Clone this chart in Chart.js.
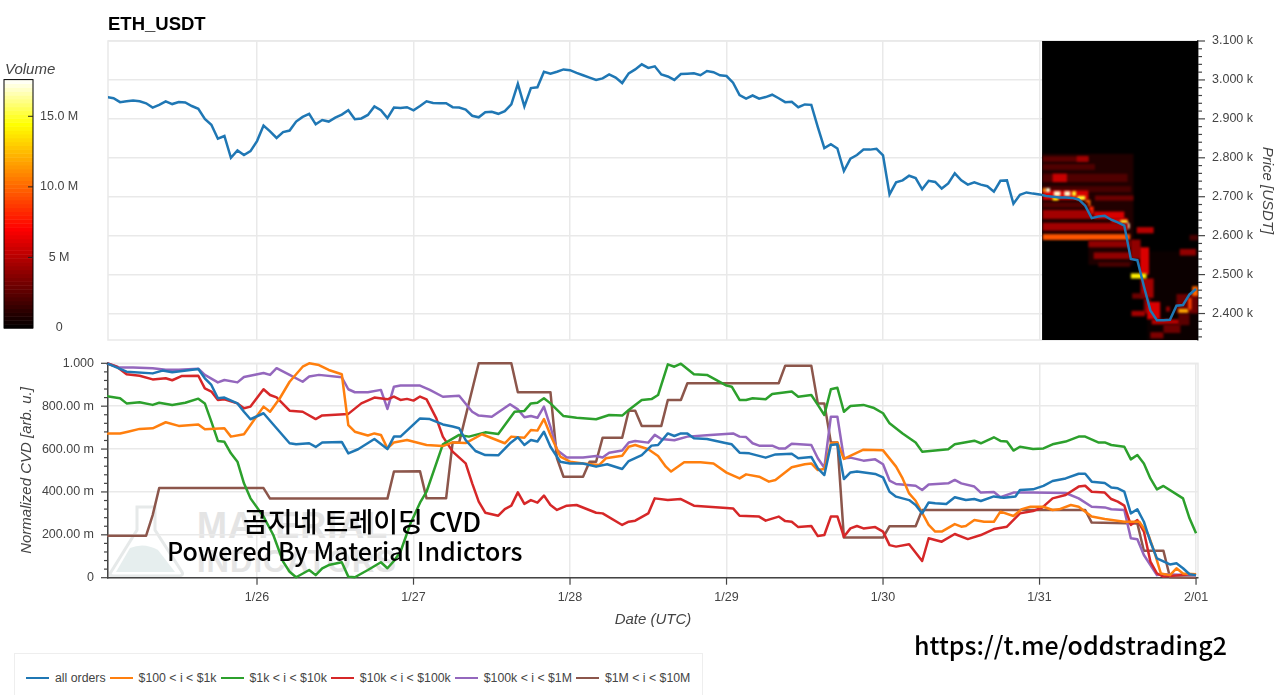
<!DOCTYPE html>
<html>
<head>
<meta charset="utf-8">
<title>ETH_USDT CVD</title>
<script src="https://cdn.jsdelivr.net/npm/chart.js@4"></script>
<style>
    html, body { margin: 0; padding: 0; background: #fff; overflow: hidden; }
    body { position: relative; width: 1280px; height: 695px; font-family: "Liberation Sans", sans-serif; }
    canvas { position: absolute; }
    .note { position: absolute; white-space: nowrap; color: #000; font-weight: 500; font-family: "Noto Sans CJK KR", sans-serif; }
    #legend { position: absolute; left: 14px; top: 653px; width: 689px; height: 50px; border: 1px solid #eee; box-sizing: border-box;
              display: flex; align-items: flex-start; padding: 17px 0 0 11px; font-size: 12.3px; color: #444; }
    #legend i { display: block; width: 23px; height: 2px; margin: 6px 6px 0 4px; }
    #legend i:first-child { margin-left: 0; }
    #volumeLabel { position: absolute; left: 5px; top: 60px; font: italic 15px "Liberation Sans", sans-serif; color: #444; }
    .mark { position: absolute; font-weight: bold; color: #e4e4e4; font-family: "Liberation Sans", sans-serif; white-space: nowrap; }
</style>
</head>
<body>
<svg width="100" height="90" style="position:absolute;left:100px;top:500px">
    <path d="M37 7 H55 V30 L82 72 Q84 76 78 76 H14 Q8 76 11 72 L37 30 Z" fill="none" stroke="#e6e9e9" stroke-width="3"/>
    <path d="M16 72 L30 48 Q44 42 58 50 L75 72 Z" fill="#e6eeee"/>
</svg>
<div class="mark" style="left:197px;top:505px;font-size:36px;letter-spacing:1px">MATERIAL</div>
<div class="mark" style="left:197px;top:544px;font-size:31px;letter-spacing:1px">INDICATORS</div>

<canvas id="priceChart" width="1280" height="345" style="left:0;top:0"></canvas>
<canvas id="cvdChart" width="1280" height="300" style="left:0;top:350px"></canvas>
<canvas id="volumeBar" width="100" height="280" style="left:0;top:60px"></canvas>

<div id="volumeLabel">Volume</div>
<div class="note" style="left:243px;top:501px;font-size:27px">곰지네 트레이딩 CVD</div>
<div class="note" style="left:167px;top:532px;font-size:25px">Powered By Material Indictors</div>
<div class="note" style="left:914px;top:626px;font-size:25px">https://t.me/oddstrading2</div>
<div id="legend"></div>

<script>
// x values are hours counted from 1/25 00:00 UTC
const dayTicks = [24, 48, 72, 96, 120, 144, 168];
const dayLabels = ['1/26', '1/27', '1/28', '1/29', '1/30', '1/31', '2/01'];

const priceTicks = [2400, 2500, 2600, 2700, 2800, 2900, 3000, 3100];
const cvdTicks = [0, 200, 400, 600, 800, 1000];
const cvdLabels = ['0', '200.00 m', '400.00 m', '600.00 m', '800.00 m', '1.000'];
const volumeTicks = [0, 5, 10, 15];
const volumeLabels = ['0', '5 M', '10.0 M', '15.0 M'];

// hourly close, first value is hour 1
const priceValues = [
    2956, 2953, 2943, 2945, 2947, 2945, 2940, 2929, 2936, 2945, 2938, 2943, 2942, 2933, 2926, 2900,
    2885, 2849, 2856, 2800, 2819, 2807, 2817, 2843, 2883, 2868, 2851, 2866, 2870, 2893, 2905, 2913,
    2886, 2897, 2893, 2903, 2911, 2922, 2899, 2901, 2910, 2932, 2922, 2902, 2929, 2928, 2930, 2922,
    2933, 2945, 2941, 2940, 2940, 2930, 2929, 2924, 2908, 2904, 2917, 2918, 2913, 2920, 2937, 2990,
    2932, 2979, 2981, 3021, 3016, 3021, 3027, 3025, 3018, 3012, 3006, 3000, 3004, 3014, 3006, 2992,
    3017, 3027, 3040, 3031, 3035, 3014, 3009, 3000, 3015, 3016, 3017, 3012, 3023, 3020, 3012, 3010,
    2993, 2961, 2952, 2960, 2952, 2956, 2962, 2953, 2943, 2944, 2930, 2937, 2936, 2879, 2825, 2835,
    2824, 2766, 2798, 2807, 2821, 2821, 2823, 2806, 2706, 2737, 2742, 2754, 2748, 2719, 2741, 2738,
    2721, 2734, 2760, 2742, 2731, 2737, 2731, 2727, 2713, 2741, 2742, 2682, 2705, 2711, 2708, 2706,
    2702, 2700, 2698, 2698, 2697, 2693, 2677, 2645, 2649, 2651, 2641, 2634, 2626, 2540, 2537, 2470,
    2408, 2383, 2383, 2384, 2420, 2422, 2449, 2463
];

// normalized CVD in milli units, [hour, value] at each kink of the line
const allOrders = [[1,1000],[4,961],[8,953],[9.5,966],[11,958],[15,973],[16,930],[17,899],[18,837],[19,840],[21,813],[22,774],[23,739],[25,767],[27,697],[29,627],[30,622],[32,627],[33,610],[34,631],[37,633],[38,580],[39.5,599],[42,647],[44,600],[45,658],[46,658],[49,743],[50.5,740],[52.5,715],[54,705],[55,697],[56,642],[57.5,591],[59,572],[61,571],[62.8,627],[64,655],[65,619],[66,642],[67,635],[68,681],[69,611],[70.5,541],[72,533],[74,533],[76,518],[77.7,529],[80,507],[81,544],[83,572],[84.5,616],[85.5,619],[87,673],[88,661],[89,673],[90,672],[91,650],[93,647],[96,627],[96.8,622],[98,583],[99.5,580],[102,560],[103.5,575],[106,578],[107,557],[109,563],[110,510],[111,479],[112,619],[113,622],[114,460],[115,491],[116,495],[118.8,484],[120,468],[121,401],[122,378],[124,362],[125,339],[126,300],[127,351],[128,347],[129.7,344],[131,375],[132.7,362],[134,367],[135,358],[137,379],[138.5,373],[140.3,379],[141,409],[143,412],[144.6,428],[146,451],[148,463],[150,485],[151,485],[152,448],[154,442],[155,421],[156,417],[157,401],[158,300],[159,319],[160,261],[161,168],[162,90],[164,62],[165,67],[166,44],[167,16],[168,12]];
const smallOrders = [[1,672],[3,673],[4.2,681],[6,694],[8,697],[10,725],[12,708],[15,715],[16,692],[19,697],[20,658],[22,669],[25,798],[26,774],[27.5,837],[29,914],[31,984],[32,1000],[33.5,992],[35,969],[37,949],[38,712],[39,681],[41,663],[42,673],[43,666],[44,603],[45,631],[47,642],[50,619],[52.5,614],[54,631],[56,628],[58.5,669],[62,627],[63,658],[65,653],[66,689],[67,686],[68,740],[69,666],[70.5,565],[72,541],[74,533],[76.5,526],[77.5,557],[80,569],[81,611],[82,619],[84,599],[85.5,568],[86.7,518],[87.5,495],[89.5,538],[92,538],[94,533],[96,490],[98,463],[99,482],[101,471],[102.5,448],[103.5,456],[106,515],[108,529],[109,533],[110,502],[111,507],[112,627],[113,631],[114,554],[117,597],[120,594],[122,518],[123,463],[124,393],[125,359],[127,246],[128,215],[129,215],[131,250],[132,238],[132.7,241],[134,269],[135.5,261],[137,261],[138,308],[140,288],[141.3,320],[142.6,331],[144.6,331],[146,316],[147,319],[148.8,339],[150,331],[152,285],[154,274],[157,261],[159.3,261],[160.7,199],[161.6,121],[162.6,20],[164,12],[165,44],[166,20],[168,16]];
const midOrders = [[1,846],[3,837],[4,813],[6,818],[8,806],[9,816],[11,806],[13,816],[15,835],[16,813],[17,728],[18,638],[19,634],[20,580],[21,541],[22,440],[23,370],[25,285],[26.5,199],[28,75],[29,28],[30,2],[32,36],[33,12],[34,44],[35,59],[37,72],[38,5],[39,2],[41,36],[43,72],[44,44],[45,78],[46,121],[47.5,250],[49,350],[50,401],[52.5,622],[55,666],[56.5,658],[59,678],[61,670],[63.5,774],[65,778],[66,813],[67,816],[68,837],[69,813],[71,754],[73,746],[76,739],[78,759],[80,756],[81,782],[83,829],[84.5,833],[85.5,852],[87,995],[88,984],[89,998],[91,949],[93,946],[96,896],[96.8,891],[98,829],[99,829],[100,837],[102,832],[103,857],[106,868],[107,844],[109,852],[110,806],[111,759],[112,879],[113,886],[114,774],[115,801],[117,806],[118.5,793],[120,767],[121,720],[123,673],[125,631],[126,588],[130,599],[131,622],[134,639],[135,627],[137,655],[138,638],[139,635],[140,593],[141,611],[143,600],[144.6,603],[146,622],[148,635],[150,658],[151,658],[153,631],[154,631],[155,619],[157,611],[158,552],[159,572],[160,533],[161,463],[162,412],[163,428],[166,370],[167,277],[168,207]];
const largeOrders = [[1,1000],[2.5,984],[4,949],[6,942],[8,925],[10,930],[11,921],[12.5,941],[15,942],[16,883],[17,868],[18,829],[19,832],[21,813],[22,790],[23,798],[25,879],[26,852],[27,841],[29,779],[31,774],[33,740],[34,757],[38,764],[40,813],[42,840],[44,832],[45,845],[46,829],[47,834],[48,826],[49,845],[50,832],[51.5,743],[52.5,658],[54,588],[56,533],[57,440],[58,355],[59,303],[61,289],[62,320],[63,336],[64,398],[65,344],[66,362],[67,350],[68,383],[69,339],[70,316],[71.5,336],[73,339],[76,303],[77,300],[80,246],[81,261],[82,266],[84,300],[85,370],[87,362],[89,367],[91,336],[96,325],[97,323],[98,289],[101,285],[102,266],[104,285],[105,264],[106,261],[107,236],[109,241],[110,194],[111,199],[112,285],[113,286],[114,191],[115,230],[116,241],[117,230],[118.8,236],[120,215],[121,152],[122,145],[124,156],[126,78],[127,184],[129,168],[131,204],[133,180],[135,199],[137,227],[139,238],[141,300],[143,311],[144.4,327],[146,370],[148,386],[150,425],[151,429],[152,401],[154,397],[155,367],[156,355],[157,336],[158,246],[159,269],[160,215],[161,75],[162,20],[163,5],[167,16],[168,16]];
const whaleOrders = [[1,1000],[3,980],[5,980],[8,977],[10,970],[12,970],[15,975],[16,946],[18,911],[19,922],[21,911],[22,936],[25,955],[26,946],[27,977],[29,946],[31,914],[32,938],[33.5,946],[37,935],[38,879],[39,865],[41,865],[43,876],[44,787],[45,891],[46,896],[49,896],[50.5,876],[52.5,844],[55,849],[57,774],[58,756],[60,751],[62.8,809],[64,785],[65,748],[66,754],[67,746],[68,798],[69,704],[70,596],[71.5,561],[74,561],[76,568],[77,561],[78,583],[80,593],[81,631],[82,638],[84,630],[85,666],[86,647],[88,641],[90,658],[93.5,666],[97,673],[98,658],[99,656],[100,627],[101,616],[103,616],[104,603],[105,603],[106,625],[109,619],[110,557],[111,513],[112,751],[113,751],[114,557],[115,560],[117,546],[118.8,552],[120,529],[121,453],[122,437],[125,429],[126,409],[127,435],[130,440],[131,456],[132,440],[134,425],[135,397],[137,400],[138,375],[140,397],[143,397],[148,395],[150,370],[152,331],[154,328],[155,319],[157,316],[158,184],[159,179],[160,106],[162,12],[163,16],[168,12]];
const megaOrders = [[1,196],[7,196],[8,292],[9,418],[25,418],[26,369],[44,369],[45,495],[49,496],[50,370],[53,370],[54,631],[55,631],[58,1000],[63,1000],[64,865],[69,865],[70,557],[71,471],[74,471],[75,541],[76,541],[77,653],[80,653],[81,779],[82,779],[83,708],[86,708],[87,829],[89,829],[90,907],[104,907],[105,989],[109,989],[110,813],[111,813],[112,631],[113,631],[114,187],[120,187],[121,240],[125,240],[126,316],[151,316],[152,257],[159,253],[160,126],[163,126],[164,2],[168,0]];

const seriesNames = ['all orders', '$100 < i < $1k', '$1k < i < $10k', '$10k < i < $100k', '$100k < i < $1M', '$1M < i < $10M'];
const seriesColors = ['#1f77b4', '#ff7f0e', '#2ca02c', '#d62728', '#9467bd', '#8c564b'];
const seriesData = [allOrders, smallOrders, midOrders, largeOrders, whaleOrders, megaOrders];

// volume profile patches: [hour from, hour to, price high, price low, volume in millions]
const heatBands = [
    [144.4,168.3,3102,2330,0],
    [144.4,158.4,2810,2590,0.9],[160.5,168.3,2560,2330,0.3],[151.5,158.4,2590,2525,0.8],
    [144.5,151.5,2804,2790,2.5],[149.7,151.5,2804,2790,4.5],
    [144.5,152.5,2784,2769,2.2],
    [144.5,157.5,2759,2738,2.2],[146,148.2,2759,2738,5.5],
    [144.5,158,2727,2712,2],
    [144.5,151.5,2716,2692,6],[152.5,158.4,2703,2690,3],
    [144.5,145,2722,2712,11],[145,145.6,2722,2712,17],[146,146.9,2700,2690,14],
    [146.2,147.2,2714,2702,17],[147.8,148.7,2714,2702,17],[149,149.6,2714,2702,15],[149.8,151,2702,2692,15],[151,151.8,2692,2675,10],[151.6,152.3,2675,2655,8],
    [144.5,151.5,2686,2672,2.2],
    [144.5,152,2666,2643,4.5],[152.3,157,2662,2643,6],[155,157.5,2645,2632,6],[156.4,157.5,2640,2630,15],[157,157.8,2632,2618,17],
    [144.5,157.6,2633,2613,4.5],[158.9,161.5,2622,2606,5],
    [144.5,157.9,2604,2589,9.5],
    [151.5,158,2587,2570,4],[158,159.5,2590,2540,4],[159.4,160.8,2570,2500,6],
    [152.3,157.9,2557,2540,4],[153,157.9,2532,2520,2],
    [159.5,161.5,2490,2440,4.5],[160,161,2440,2400,3.5],[158,160.4,2503,2490,14],
    [158.2,160,2452,2438,3],[158.1,160.2,2407,2393,4.5],
    [160.5,162.5,2430,2385,6],[161.2,165.6,2385,2372,5],[161,163,2352,2336,3.5],[163,165.6,2372,2350,3],[163.4,164,2418,2405,4],
    [165,168.3,2450,2400,3],[165.3,167,2400,2370,2.5],
    [165.5,168,2566,2549,4],[167,168.3,2602,2588,2],[165.3,166.8,2412,2402,12],[166.8,167.3,2440,2410,9],[167.4,168.3,2470,2445,10]
];

const volumeMax = 17.6;

// black, red, yellow, white
function hot(t) {
    const c = v => Math.round(Math.max(0, Math.min(1, v)) * 255);
    return 'rgb(' + c(t / 0.4) + ',' + c((t - 0.4) / 0.42) + ',' + c((t - 0.82) / 0.18) + ')';
}

const gridColor = '#e9e9e9';
const axisColor = '#444';
const labelFont = { family: 'Liberation Sans', size: 12.5 };
const titleFont = { family: 'Liberation Sans', size: 15, style: 'italic' };

const setTicks = values => axis => { axis.ticks = values.map(v => ({ value: v })); };
const labelFor = (values, labels) => v => labels[values.indexOf(v)];

// keep plot edges where we put them, tick labels may hang over
function fixSize(prop, size) {
    return axis => {
        axis[prop] = size;
        axis.paddingTop = axis.paddingBottom = axis.paddingLeft = axis.paddingRight = 0;
    };
}

// light frame around a plot
const outline = {
    id: 'outline',
    beforeDraw(chart) {
        const a = chart.chartArea;
        chart.ctx.save();
        chart.ctx.strokeStyle = gridColor;
        chart.ctx.lineWidth = 1.5;
        chart.ctx.strokeRect(a.left, a.top, a.width, a.height);
        chart.ctx.restore();
    }
};

// bokeh style major and minor tick marks, drawn outside the axis
function tickMarks(axisId, majors, minorStep) {
    return {
        id: 'tickMarks' + axisId,
        afterDraw(chart) {
            const scale = chart.scales[axisId];
            const ctx = chart.ctx;
            const mark = (v, len) => {
                const p = scale.getPixelForValue(v);
                ctx.beginPath();
                if (scale.position === 'left') { ctx.moveTo(scale.right, p); ctx.lineTo(scale.right - len, p); }
                else if (scale.position === 'right') { ctx.moveTo(scale.left, p); ctx.lineTo(scale.left + len, p); }
                else { ctx.moveTo(p, scale.top); ctx.lineTo(p, scale.top + len); }
                ctx.stroke();
            };
            ctx.save();
            ctx.strokeStyle = axisColor;
            ctx.lineWidth = 1.2;
            majors.forEach(v => mark(v, 7));
            if (minorStep) {
                for (let v = scale.min - scale.min % minorStep + minorStep; v < scale.max; v += minorStep) {
                    if (!majors.includes(v)) mark(v, 4);
                }
            }
            ctx.restore();
        }
    };
}

const heatmap = {
    id: 'heatmap',
    beforeDatasetsDraw(chart) {
        const { ctx, chartArea: a, scales: { x, y } } = chart;
        ctx.save();
        ctx.beginPath();
        ctx.rect(x.getPixelForValue(heatBands[0][0]), a.top, a.right - x.getPixelForValue(heatBands[0][0]), a.height);
        ctx.clip();
        ctx.fillStyle = hot(0);
        ctx.fillRect(a.left, a.top, a.width, a.height);
        ctx.filter = 'blur(0.8px)';
        heatBands.forEach(([h0, h1, high, low, vol]) => {
            ctx.fillStyle = hot(vol / volumeMax);
            const left = x.getPixelForValue(h0), top = y.getPixelForValue(high);
            ctx.fillRect(left, top, x.getPixelForValue(h1) - left, y.getPixelForValue(low) - top);
        });
        ctx.restore();
    }
};

new Chart(document.getElementById('priceChart'), {
    type: 'line',
    data: {
        datasets: [{
            data: priceValues.map((v, i) => ({ x: i + 1, y: v })),
            borderColor: seriesColors[0],
            borderWidth: 2.5,
            pointRadius: 0,
            tension: 0
        }]
    },
    options: {
        responsive: false,
        animation: false,
        layout: { autoPadding: false, padding: { left: 108, bottom: 5 } },
        plugins: {
            legend: { display: false },
            tooltip: { enabled: false },
            title: {
                display: true,
                text: 'ETH_USDT',
                align: 'start',
                fullSize: false,
                color: '#000',
                font: { family: 'Liberation Sans', size: 18.5, weight: 'bold', lineHeight: 1.2 },
                padding: { top: 14, bottom: 4.8 }
            }
        },
        scales: {
            x: {
                type: 'linear',
                min: 1.15,
                max: 168.3,
                afterBuildTicks: setTicks(dayTicks),
                afterFit: fixSize('height', 0),
                ticks: { display: false },
                grid: { color: gridColor, lineWidth: 1.5, drawTicks: false },
                border: { display: false }
            },
            y: {
                position: 'right',
                min: 2332,
                max: 3100,
                afterBuildTicks: setTicks(priceTicks),
                afterFit: fixSize('width', 82),
                ticks: {
                    autoSkip: false,
                    padding: 14,
                    color: axisColor,
                    font: labelFont,
                    callback: v => (v / 1000).toFixed(3) + ' k'
                },
                grid: { color: gridColor, lineWidth: 1.5, drawTicks: false },
                border: { color: axisColor, width: 1.5 },
                title: {
                    display: true,
                    text: 'Price [USDT]',
                    color: axisColor,
                    font: titleFont,
                    padding: { top: 4, bottom: 4 }
                }
            }
        }
    },
    plugins: [outline, heatmap, tickMarks('y', priceTicks, 20)]
});

new Chart(document.getElementById('cvdChart'), {
    type: 'line',
    data: {
        datasets: seriesData.map((points, i) => ({
            label: seriesNames[i],
            data: points.map(p => ({ x: p[0], y: p[1] })),
            borderColor: seriesColors[i],
            borderWidth: 2.5,
            borderJoinStyle: 'round',
            pointRadius: 0,
            tension: 0,
            clip: false
        }))
    },
    options: {
        responsive: false,
        animation: false,
        layout: { autoPadding: false, padding: { top: 13.3, right: 82 } },
        plugins: { legend: { display: false }, tooltip: { enabled: false } },
        scales: {
            x: {
                type: 'linear',
                min: 1.15,
                max: 168.3,
                afterBuildTicks: setTicks(dayTicks),
                afterFit: fixSize('height', 72.3),
                ticks: {
                    autoSkip: false,
                    maxRotation: 0,
                    padding: 12,
                    color: axisColor,
                    font: labelFont,
                    callback: labelFor(dayTicks, dayLabels)
                },
                grid: { color: gridColor, lineWidth: 1.5, drawTicks: false },
                border: { color: axisColor, width: 1.5 },
                title: {
                    display: true,
                    text: 'Date (UTC)',
                    color: axisColor,
                    font: titleFont,
                    padding: { top: 21, bottom: 21 }
                }
            },
            y: {
                position: 'left',
                min: 0,
                max: 1000,
                afterBuildTicks: setTicks(cvdTicks),
                afterFit: fixSize('width', 108),
                ticks: {
                    autoSkip: false,
                    padding: 14,
                    color: axisColor,
                    font: labelFont,
                    callback: labelFor(cvdTicks, cvdLabels)
                },
                grid: { color: gridColor, lineWidth: 1.5, drawTicks: false },
                border: { color: axisColor, width: 1.5 },
                title: {
                    display: true,
                    text: 'Normalized CVD [arb. u.]',
                    color: axisColor,
                    font: titleFont,
                    padding: { top: 18, bottom: 18 }
                }
            }
        }
    },
    plugins: [outline, tickMarks('y', cvdTicks, 40), tickMarks('x', dayTicks, 0)]
});

// colour bar: an empty bar chart with a volume axis, filled from the palette
const colorBar = {
    id: 'colorBar',
    afterDraw(chart) {
        const { ctx, chartArea: a, scales: { y } } = chart;
        ctx.save();
        const steps = 64;
        for (let i = 0; i < steps; i++) {
            const top = y.getPixelForValue(volumeMax * (i + 1) / steps);
            const bottom = y.getPixelForValue(volumeMax * i / steps);
            ctx.fillStyle = hot((i + 0.5) / steps);
            ctx.fillRect(a.left, top, a.width, bottom - top + 0.5);
        }
        ctx.strokeStyle = '#000';
        ctx.lineWidth = 1;
        ctx.strokeRect(a.left, a.top, a.width, a.height);
        ctx.strokeStyle = '#222';
        volumeTicks.slice(1).forEach(v => {
            const p = y.getPixelForValue(v);
            ctx.beginPath();
            ctx.moveTo(a.right - 5, p);
            ctx.lineTo(a.right, p);
            ctx.stroke();
        });
        ctx.restore();
    }
};

new Chart(document.getElementById('volumeBar'), {
    type: 'bar',
    data: { labels: [''], datasets: [{ data: [0] }] },
    options: {
        responsive: false,
        animation: false,
        layout: { autoPadding: false, padding: { left: 4, top: 19.6, bottom: 12 } },
        plugins: { legend: { display: false }, tooltip: { enabled: false } },
        scales: {
            x: { display: false },
            y: {
                position: 'right',
                min: 0,
                max: volumeMax,
                afterBuildTicks: setTicks(volumeTicks),
                afterFit: fixSize('width', 67),
                ticks: {
                    autoSkip: false,
                    padding: -1,
                    crossAlign: 'center',
                    color: axisColor,
                    font: labelFont,
                    callback: labelFor(volumeTicks, volumeLabels)
                },
                grid: { display: false },
                border: { display: false }
            }
        }
    },
    plugins: [colorBar]
});

const legend = document.getElementById('legend');
seriesNames.forEach((name, i) => {
    const line = document.createElement('i');
    line.style.background = seriesColors[i];
    legend.appendChild(line);
    legend.appendChild(document.createTextNode(name));
});
</script>
</body>
</html>
